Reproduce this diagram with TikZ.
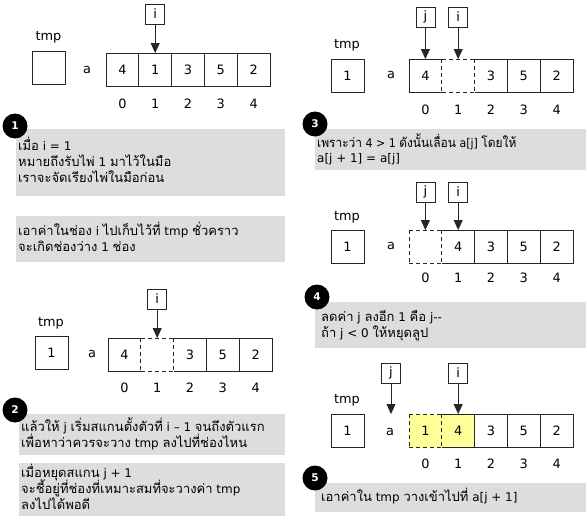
\documentclass[tikz,border=0pt]{standalone}
\usepackage{graphicx}
\usepackage{fontspec}
\setmainfont[Scale=0.92]{DejaVu Sans}
\newfontfamily\latfont[Scale=0.92]{DejaVu Sans}
\newfontfamily\thaifont[Script=Thai]{Loma}
% automatic switch between Latin and Thai fonts
\XeTeXinterchartokenstate=1
\newXeTeXintercharclass\ThaiClass
\count255="0E00
\loop
  \XeTeXcharclass\count255=\ThaiClass
  \ifnum\count255<"0E7F \advance\count255 by 1
\repeat
\XeTeXinterchartoks 0 \ThaiClass = {\thaifont}
\XeTeXinterchartoks 4095 \ThaiClass = {\thaifont}
\XeTeXinterchartoks \ThaiClass 0 = {\latfont}
\XeTeXinterchartoks \ThaiClass 4095 = {\latfont}
\usetikzlibrary{arrows.meta}
\definecolor{notegray}{RGB}{221,221,221}
\definecolor{hiyellow}{RGB}{255,255,153}
\tikzset{
  cellnode/.style={minimum width=32.8pt, minimum height=33.5pt, inner sep=0pt, outer sep=0pt, anchor=north west, font=\fontsize{14}{16}\selectfont},
  cellline/.style={line width=0.8pt, draw=black!85},
  gapline/.style={cellline, dash pattern=on 4pt off 3pt},
  tmpbox/.style={draw=black!85, line width=0.8pt, minimum width=33pt, minimum height=33pt, inner sep=0pt, outer sep=0pt, anchor=north west, font=\fontsize{14}{16}\selectfont},
  lbl/.style={inner sep=0pt, font=\fontsize{14}{16}\selectfont},
  ptrbox/.style={draw=black!85, line width=0.8pt, minimum width=19pt, minimum height=20pt, inner sep=0pt, outer sep=0pt, anchor=north, font=\fontsize{14}{16}\selectfont},
  ptrarrow/.style={line width=0.8pt, draw=black!85, -{Triangle[width=9pt,length=10pt]}},
  stepdot/.style={circle, fill=black, text=white, minimum size=25pt, inner sep=0pt, font=\fontsize{11.5}{13}\selectfont\bfseries},
  notebox/.style={fill=notegray, inner sep=0pt, outer sep=0pt, anchor=north west},
  noteline/.style={inner sep=0pt, anchor=base west, font=\fontsize{13}{16}\selectfont},
}
% #1 prefix, #2 x, #3 y, #4 dashed index (-1 none), #5 last yellow index (-1 none), #6 index row y
\newcommand{\cellrow}[6]{%
  \foreach \v [count=\k from 0] in \cellvals {
    \ifnum\k>#5 \def\cf{none}\else\def\cf{hiyellow}\fi
    \node[cellnode, fill=\cf] (#1c\k) at ({#2+32.8*\k},#3) {\v};
    \node[lbl] (#1n\k) at ({#2+32.8*\k+16.4},#6) {\k};
  }
  \pgfmathtruncatemacro{\dn}{#4<0 ? -5 : #4+1}
  \foreach \k in {0,...,4} {
    \ifnum\k=#4 \def\hs{gapline}\else\def\hs{cellline}\fi
    \draw[\hs] (#1c\k.north west) -- (#1c\k.north east);
    \draw[\hs] (#1c\k.south west) -- (#1c\k.south east);
    \ifnum\k=#4 \def\vs{gapline}\else\ifnum\k=\dn \def\vs{gapline}\else\def\vs{cellline}\fi\fi
    \draw[\vs] (#1c\k.north west) -- (#1c\k.south west);
  }
  \ifnum#4=4 \def\vs{gapline}\else\def\vs{cellline}\fi
  \draw[\vs] (#1c4.north east) -- (#1c4.south east);
}
\begin{document}
\begin{tikzpicture}[x=1pt, y=-1pt]
\fill[white] (0,0) rectangle (587,525);
\useasboundingbox (0,0) rectangle (587,525);

% ---------- Panel 1 ----------
\node[lbl] (p1tl) at (48.5,37) {tmp};
\node[tmpbox] (p1t) at (32,51) {};
\node[lbl] (p1a) at (87,70) {a};
\def\cellvals{4,1,3,5,2}
\cellrow{p1}{106}{53}{-1}{-1}{104}
\node[ptrbox] (p1pi) at (p1c1.center |- 0,4) {i};
\draw[ptrarrow] (p1pi.south) -- (p1c1.north);

\node[notebox, minimum width=269pt, minimum height=67pt] (nb1) at (16,129) {};
\node[stepdot] (s1) at (15,126) {1};
\node[noteline] (t1a) at (18,150) {เมื่อ i = 1};
\node[noteline] (t1b) at (18,166) {หมายถึงรับไพ่ 1 มาไว้ในมือ};
\node[noteline] (t1c) at (18,182) {เราจะจัดเรียงไพ่ในมือก่อน};

\node[notebox, minimum width=269pt, minimum height=46pt] (nb1b) at (16,216) {};
\node[noteline] (t1d) at (18,235) {เอาค่าในช่อง i ไปเก็บไว้ที่ tmp ชั่วคราว};
\node[noteline] (t1e) at (18,251) {จะเกิดช่องว่าง 1 ช่อง};

% ---------- Panel 2 ----------
\node[lbl] (p2tl) at (51,323) {tmp};
\node[tmpbox] (p2t) at (35,336) {1};
\node[lbl] (p2a) at (92,354) {a};
\def\cellvals{4,{},3,5,2}
\cellrow{p2}{108}{338}{1}{-1}{388}
\node[ptrbox] (p2pi) at (p2c1.center |- 0,289) {i};
\draw[ptrarrow] (p2pi.south) -- (p2c1.north);

\node[notebox, minimum width=266pt, minimum height=41pt] (nb2a) at (19,414) {};
\node[stepdot] (s2) at (15,410) {2};
\node[noteline] (t2a) at (21,431) {แล้วให้ j เริ่มสแกนตั้งตัวที่ i – 1 จนถึงตัวแรก};
\node[noteline] (t2b) at (21,447) {เพื่อหาว่าควรจะวาง tmp ลงไปที่ช่องไหน};

\node[notebox, minimum width=266pt, minimum height=53pt] (nb2b) at (19,463) {};
\node[noteline] (t2c) at (21,477) {เมื่อหยุดสแกน j + 1};
\node[noteline] (t2d) at (21,493) {จะชี้อยู่ที่ช่องที่เหมาะสมที่จะวางค่า tmp};
\node[noteline] (t2e) at (21,509) {ลงไปได้พอดี};

% ---------- Panel 3 ----------
\node[lbl] (p3tl) at (347,45) {tmp};
\node[tmpbox] (p3t) at (331,59) {1};
\node[lbl] (p3a) at (391,75) {a};
\def\cellvals{4,{},3,5,2}
\cellrow{p3}{409}{59}{1}{-1}{110}
\node[ptrbox] (p3pj) at (p3c0.center |- 0,7) {j};
\node[ptrbox] (p3pi) at (p3c1.center |- 0,7) {i};
\draw[ptrarrow] (p3pj.south) -- (p3c0.north);
\draw[ptrarrow] (p3pi.south) -- (p3c1.north);

\node[notebox, minimum width=271pt, minimum height=41pt] (nb3) at (315,129) {};
\node[stepdot] (s3) at (315,124) {3};
\node[noteline] (t3a) at (317,147) {\scalebox{0.92}[1]{เพราะว่า 4 > 1 ดังนั้นเลื่อน a[j] โดยให้}};
\node[noteline] (t3b) at (317,162) {a[j + 1] = a[j]};

% ---------- Panel 4 ----------
\node[lbl] (p4tl) at (347,217) {tmp};
\node[tmpbox] (p4t) at (331,230) {1};
\node[lbl] (p4a) at (391,246) {a};
\def\cellvals{{},4,3,5,2}
\cellrow{p4}{409}{230}{0}{-1}{278}
\node[ptrbox] (p4pj) at (p4c0.center |- 0,182) {j};
\node[ptrbox] (p4pi) at (p4c1.center |- 0,182) {i};
\draw[ptrarrow] (p4pj.south) -- (p4c0.north);
\draw[ptrarrow] (p4pi.south) -- (p4c1.north);

\node[notebox, minimum width=271pt, minimum height=46pt] (nb4) at (315,302) {};
\node[stepdot] (s4) at (317,297) {4};
\node[noteline] (t4a) at (321,321) {ลดค่า j ลงอีก 1 คือ j-\kern0pt-};
\node[noteline] (t4b) at (321,337) {ถ้า j < 0 ให้หยุดลูป};

% ---------- Panel 5 ----------
\node[lbl] (p5tl) at (347,400) {tmp};
\node[tmpbox] (p5t) at (331,414) {1};
\node[lbl] (p5a) at (390,432) {a};
\def\cellvals{1,4,3,5,2}
\cellrow{p5}{409}{414}{0}{1}{464}
\coordinate (p5jt) at (391,414);
\node[ptrbox] (p5pj) at (391,363) {j};
\node[ptrbox] (p5pi) at (p5c1.center |- 0,363) {i};
\draw[ptrarrow] (p5pj.south) -- (p5jt);
\draw[ptrarrow] (p5pi.south) -- (p5c1.north);

\node[notebox, minimum width=271pt, minimum height=29pt] (nb5) at (315,483) {};
\node[stepdot] (s5) at (315,478) {5};
\node[noteline] (t5a) at (321,501) {เอาค่าใน tmp วางเข้าไปที่ a[j + 1]};
\end{tikzpicture}
\end{document}
